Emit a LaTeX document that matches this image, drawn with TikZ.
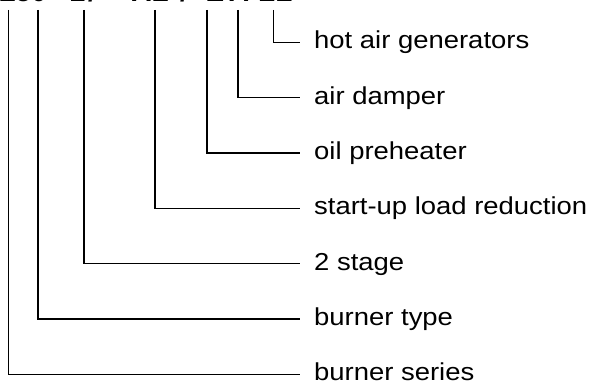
\documentclass[tikz,border=0pt]{standalone}
\usepackage{fontspec}
\setmainfont{Liberation Sans}
\begin{document}
\begin{tikzpicture}[x=1pt,y=1pt,
  lbl/.style={anchor=base west,inner sep=0pt,font=\fontsize{24.5}{28}\selectfont,xscale=1.12,transform shape},
  code/.style={anchor=base,inner sep=0pt,font=\fontsize{28}{32}\selectfont\bfseries},
  lead/.style={line width=1.2pt,black}]
\useasboundingbox (0,0) rectangle (590,382);
\clip (0,0) rectangle (590,382);
% cut-off designation (only bottom edges visible)
\node[code,anchor=base east] (c1) at (47,380) {RL50};
\node[code] (c2) at (78,380) {2};
\node[code] (c3) at (92,380) {/};
\node[code] (c4) at (150,380) {AL};
\node[code] (c5) at (184,380) {/};
\node[code] (c6) at (215,380) {E};
\node[code] (c7) at (239,380) {A};
\node[code,anchor=base west] (c8) at (258,380) {LL};
% top ends of leader lines
\coordinate (t1) at (8.3,372);
\coordinate (t2) at (38,372);
\coordinate (t3) at (84,372);
\coordinate (t4) at (155,372);
\coordinate (t5) at (207,372);
\coordinate (t6) at (238,372);
\coordinate (t7) at (273.3,372);
% labels (baseline 6.5 below the leader line)
\node[lbl] (l7) at (314,333.0) {hot air generators};
\node[lbl] (l6) at (314,277.7) {air damper};
\node[lbl] (l5) at (314,222.4) {oil preheater};
\node[lbl] (l4) at (314,167.1) {start-up load reduction};
\node[lbl] (l3) at (314,111.8) {2 stage};
\node[lbl] (l2) at (314,56.5) {burner type};
\node[lbl] (l1) at (314,1.2) {burner series};
% corner points
\coordinate (e7) at (300,339.5);
\coordinate (e6) at (300,284.2);
\coordinate (e5) at (300,228.9);
\coordinate (e4) at (300,173.6);
\coordinate (e3) at (300,118.3);
\coordinate (e2) at (300,63.0);
\coordinate (e1) at (300,7.7);
\draw[lead] (t7) |- (e7);
\draw[lead] (t6) |- (e6);
\draw[lead] (t5) |- (e5);
\draw[lead] (t4) |- (e4);
\draw[lead] (t3) |- (e3);
\draw[lead] (t2) |- (e2);
\draw[lead] (t1) |- (e1);
\end{tikzpicture}
\end{document}
